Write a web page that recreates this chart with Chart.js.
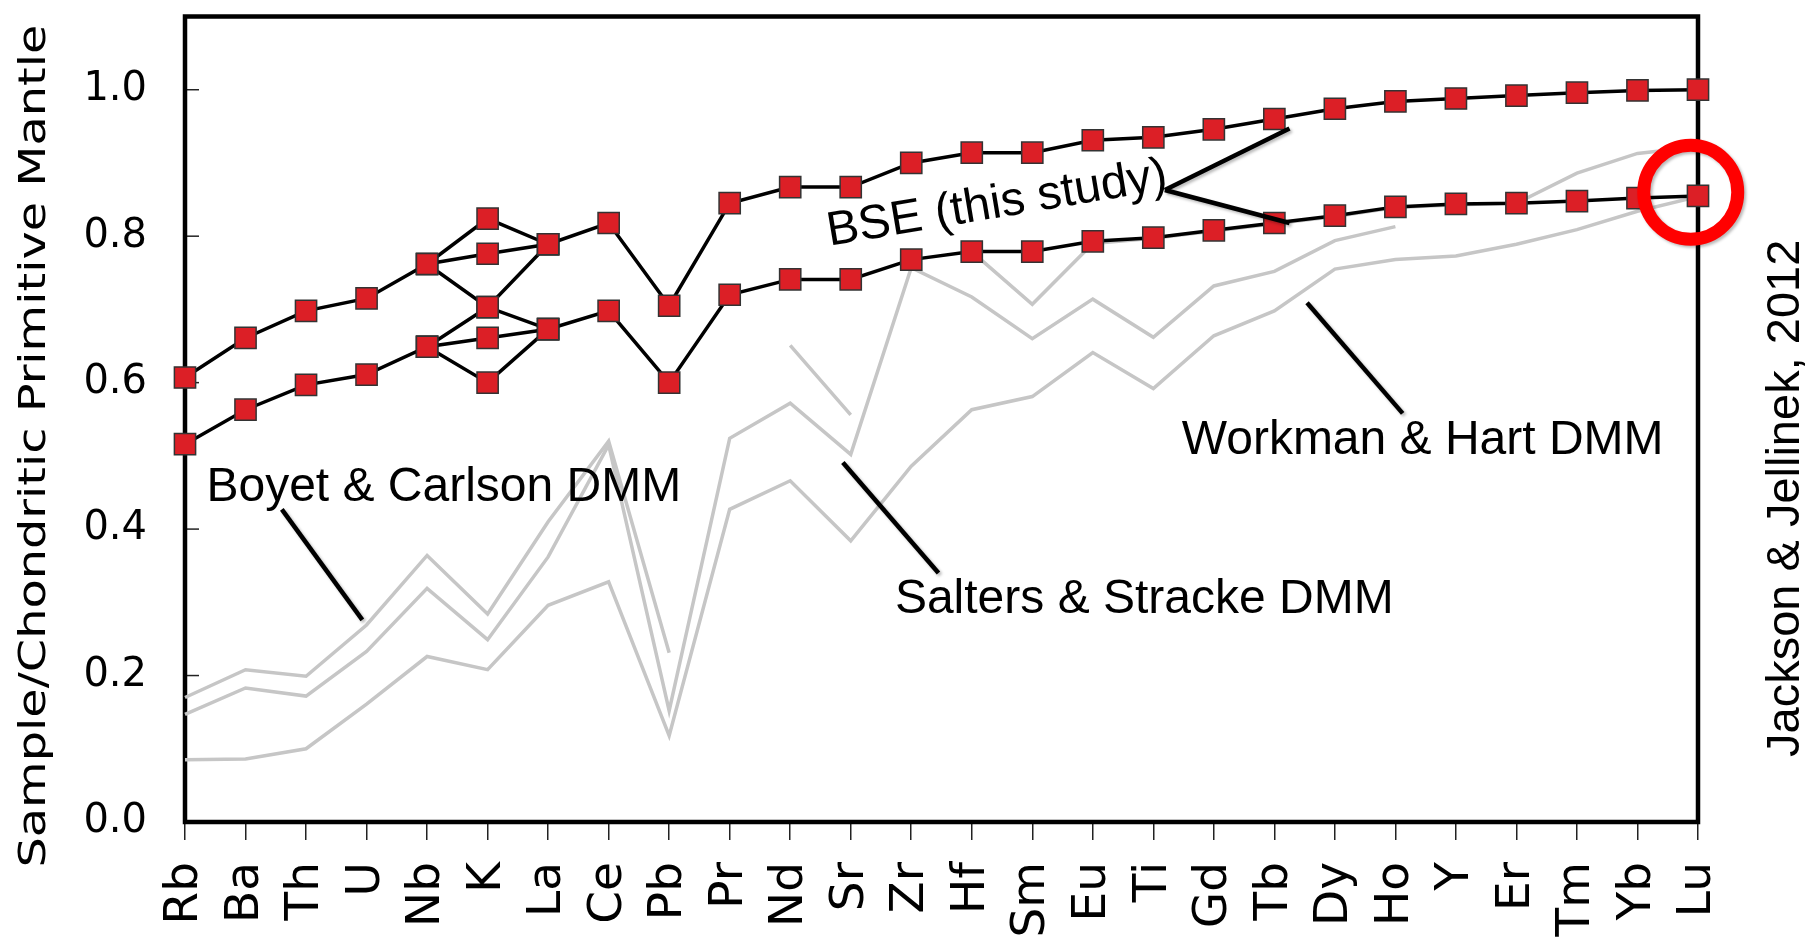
<!DOCTYPE html>
<html>
<head>
<meta charset="utf-8">
<title>Sample/Chondritic Primitive Mantle</title>
<script src="https://cdn.jsdelivr.net/npm/chart.js@4.4.1/dist/chart.umd.min.js"></script>
<style>
  html, body { margin: 0; padding: 0; background: #fff; overflow: hidden; }
  #wrap { width: 1810px; height: 950px; position: relative; }
</style>
</head>
<body>
<div id="wrap"><canvas id="spider"></canvas></div>
<script>
// Elements in order of decreasing incompatibility
const elements = ["Rb", "Ba", "Th", "U", "Nb", "K", "La", "Ce", "Pb", "Pr", "Nd", "Sr", "Zr",
  "Hf", "Sm", "Eu", "Ti", "Gd", "Tb", "Dy", "Ho", "Y", "Er", "Tm", "Yb", "Lu"];

// BSE (this study), upper and lower bounds, normalised to primitive mantle
const bseUpper = [0.607, 0.661, 0.698, 0.715, 0.762, 0.776, 0.789, 0.818, 0.705, 0.845, 0.867, 0.867, 0.900,
  0.914, 0.914, 0.931, 0.935, 0.946, 0.960, 0.974, 0.984, 0.988, 0.992, 0.996, 0.999, 1.000];
const bseLower = [0.516, 0.563, 0.597, 0.611, 0.649, 0.661, 0.673, 0.698, 0.600, 0.720, 0.741, 0.741, 0.768,
  0.779, 0.779, 0.793, 0.798, 0.808, 0.818, 0.828, 0.840, 0.844, 0.845, 0.848, 0.852, 0.855];
// alternative K values, each drawn as its own Nb-K-La branch
const bseUpperK = [0.824, 0.703];
const bseLowerK = [0.703, 0.600];

// depleted MORB mantle estimates
const boyetCarlson = [0.170, 0.208, 0.199, 0.269, 0.364, 0.284, 0.410, 0.520, 0.231, null, 0.651, 0.556, null,
  0.779, 0.707, 0.790, 0.797, 0.807, 0.817, 0.827, 0.839, 0.843, 0.845, 0.886, 0.913, 0.922];
const saltersStracke = [0.147, 0.183, 0.172, 0.233, 0.319, 0.249, 0.362, 0.515, 0.152, 0.524, 0.572, 0.502, 0.757,
  0.717, 0.660, 0.714, 0.662, 0.732, 0.752, 0.794, 0.813, null, null, null, null, null];
const workmanHart = [0.085, 0.086, 0.100, 0.161, 0.226, 0.208, 0.296, 0.328, 0.118, 0.427, 0.466, 0.384, 0.486,
  0.563, 0.581, 0.641, 0.592, 0.664, 0.698, 0.755, 0.768, 0.773, 0.789, 0.809, 0.834, 0.854];

const yTicks = [0, 0.2, 0.4, 0.6, 0.8, 1.0];

const iNb = elements.indexOf("Nb");
const iK = elements.indexOf("K");
const iLa = elements.indexOf("La");

// Nb -> K(alt) -> La path, nulls elsewhere
function kBranch(series, kValue) {
  return elements.map((_, i) => {
    if (i === iNb) return series[iNb];
    if (i === iK) return kValue;
    if (i === iLa) return series[iLa];
    return null;
  });
}

const bseStyle = {
  borderColor: "#000",
  borderWidth: 3.5,
  pointStyle: "rect",
  pointRadius: 15,
  pointBackgroundColor: "#dc1f26",
  pointBorderColor: "#333",
  pointBorderWidth: 1.5,
  clip: false,
  order: 1
};
const dmmStyle = {
  borderColor: "#c6c6c6",
  borderWidth: 3.5,
  pointRadius: 0,
  clip: false,
  order: 2
};

const datasets = [
  { label: "BSE upper", data: bseUpper, ...bseStyle },
  { label: "BSE lower", data: bseLower, ...bseStyle },
  ...bseUpperK.map(k => ({ label: "BSE upper K", data: kBranch(bseUpper, k), ...bseStyle })),
  ...bseLowerK.map(k => ({ label: "BSE lower K", data: kBranch(bseLower, k), ...bseStyle })),
  { label: "Boyet & Carlson DMM", data: boyetCarlson, ...dmmStyle },
  { label: "Salters & Stracke DMM", data: saltersStracke, ...dmmStyle },
  { label: "Workman & Hart DMM", data: workmanHart, ...dmmStyle }
];

// plot frame plus inward tick marks on the y axis
const frame = {
  id: "frame",
  beforeDatasetsDraw(chart) {
    const { ctx, chartArea: a, scales: { y } } = chart;
    ctx.save();
    ctx.strokeStyle = "#222";
    ctx.lineWidth = 1.5;
    yTicks.forEach(v => {
      const py = y.getPixelForValue(v);
      ctx.beginPath();
      ctx.moveTo(a.left, py);
      ctx.lineTo(a.left + 14, py);
      ctx.stroke();
    });
    ctx.strokeStyle = "#000";
    ctx.lineWidth = 4.5;
    ctx.strokeRect(a.left, a.top, a.right - a.left, a.bottom - a.top);
    ctx.restore();
  }
};

// labels, pointer lines, highlight ring and side texts
const notes = {
  id: "notes",
  afterDatasetsDraw(chart) {
    const { ctx, scales: { x, y } } = chart;
    const at = (i, v) => [x.getPixelForValue(i), y.getPixelForValue(v)];
    const line = (p, q) => {
      ctx.beginPath();
      ctx.moveTo(p[0], p[1]);
      ctx.lineTo(q[0], q[1]);
      ctx.stroke();
    };

    ctx.save();
    ctx.shadowColor = "rgba(0,0,0,0.28)";
    ctx.shadowBlur = 3;
    ctx.shadowOffsetX = 2;
    ctx.shadowOffsetY = 2;
    ctx.strokeStyle = "#000";
    ctx.lineWidth = 4.5;
    ctx.lineCap = "butt";
    line(at(1.60, 0.427), at(2.93, 0.276));
    line(at(10.87, 0.491), at(12.45, 0.340));
    line(at(18.54, 0.709), at(20.12, 0.558));
    const apex = at(16.19, 0.863);
    line(apex, at(18.25, 0.947));
    line(apex, at(18.25, 0.818));

    // ring around Lu
    const c = at(24.88, 0.860);
    ctx.strokeStyle = "#ff0000";
    ctx.lineWidth = 13;
    ctx.beginPath();
    ctx.arc(c[0], c[1], 47, 0, Math.PI * 2);
    ctx.stroke();
    ctx.restore();

    ctx.save();
    ctx.fillStyle = "#000";
    ctx.font = "48px 'Liberation Sans', Arial, sans-serif";
    ctx.textBaseline = "alphabetic";
    ctx.textAlign = "left";
    let p = at(0.354, 0.438);
    ctx.fillText("Boyet & Carlson DMM", p[0], p[1]);
    p = at(11.73, 0.286);
    ctx.fillText("Salters & Stracke DMM", p[0], p[1]);
    p = at(16.47, 0.503);
    ctx.fillText("Workman & Hart DMM", p[0], p[1]);

    p = at(10.65, 0.787);
    ctx.save();
    ctx.translate(p[0], p[1]);
    ctx.rotate(-9.5 * Math.PI / 180);
    ctx.fillText("BSE (this study)", 0, 0);
    ctx.restore();

    // credit on the right side
    ctx.save();
    ctx.font = "47px 'Liberation Sans', Arial, sans-serif";
    ctx.translate(1799, 757);
    ctx.rotate(-Math.PI / 2);
    ctx.fillText("Jackson & Jellinek, 2012", 0, 0);
    ctx.restore();

    // y axis title, stretched along its length
    const title = "Sample/Chondritic Primitive Mantle";
    ctx.font = "38px 'DejaVu Sans', sans-serif";
    const stretch = 843 / ctx.measureText(title).width;
    ctx.translate(35, 446);
    ctx.rotate(-Math.PI / 2);
    ctx.scale(stretch, 1);
    ctx.textAlign = "center";
    ctx.textBaseline = "middle";
    ctx.fillText(title, 0, 0);
    ctx.restore();
  }
};

new Chart(document.getElementById("spider"), {
  type: "line",
  data: { labels: elements, datasets },
  options: {
    responsive: true,
    maintainAspectRatio: false,
    animation: false,
    layout: { padding: { top: 11, right: 112, left: 0, bottom: 0 } },
    plugins: { legend: { display: false }, tooltip: { enabled: false } },
    elements: { line: { tension: 0 } },
    scales: {
      x: {
        type: "category",
        offset: false,
        afterFit: s => { s.height = 128; s.paddingLeft = 0; s.paddingRight = 0; },
        grid: { display: true, drawOnChartArea: false, drawTicks: true, tickLength: 18, color: "#222", lineWidth: 1.5 },
        border: { display: false },
        ticks: {
          autoSkip: false,
          minRotation: 90,
          maxRotation: 90,
          padding: 22,
          color: "#000",
          font: { family: "'DejaVu Sans'", size: 47 }
        }
      },
      y: {
        min: 0,
        max: 1.1,
        afterBuildTicks: s => { s.ticks = yTicks.map(v => ({ value: v })); },
        afterFit: s => { s.width = 185; s.paddingTop = 0; s.paddingBottom = 0; },
        grid: { display: false, drawTicks: false },
        border: { display: false },
        ticks: {
          padding: 38,
          color: "#000",
          font: { family: "'DejaVu Sans'", size: 40 },
          callback: v => Number(v).toFixed(1)
        }
      }
    }
  },
  plugins: [frame, notes]
});
</script>
</body>
</html>
